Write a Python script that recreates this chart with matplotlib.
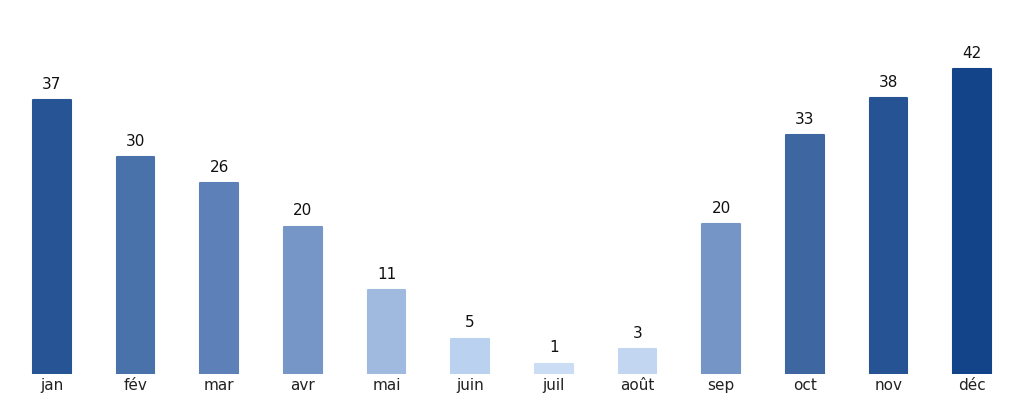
import matplotlib.pyplot as plt
import numpy as np
from matplotlib.colors import LinearSegmentedColormap, Normalize

# Données
mois = ['jan', 'fév', 'mar', 'avr', 'mai', 'juin', 'juil', 'août', 'sep', 'oct', 'nov', 'déc']
valeurs = [37.3, 29.6, 26.0, 20.1, 11.4, 4.8, 1.4, 3.4, 20.4, 32.6, 37.6, 41.6]

cmap = LinearSegmentedColormap.from_list('bleus', [
    (0.0, '#cbdcf5'), (0.09, '#b9d0f0'), (0.25, '#a0b9df'), (0.46, '#7697c7'),
    (0.61, '#5c80b7'), (0.70, '#4a72aa'), (0.78, '#3d65a1'), (0.89, '#285596'),
    (1.0, '#134388')])
norm = Normalize(vmin=min(valeurs), vmax=max(valeurs))
couleurs = [cmap(norm(v)) for v in valeurs]

fig = plt.figure(figsize=(10.24, 4.04), dpi=100)
ax = fig.add_axes([10 / 1024, 30 / 404, 1004 / 1024, 330 / 404])

x = np.arange(len(mois))
ax.bar(x, valeurs, width=0.45, color=couleurs, edgecolor=couleurs,
       linewidth=1.5, joinstyle='round')

for xi, v in zip(x, valeurs):
    ax.annotate(f'{v:.0f}', (xi, v), xytext=(0, 6), textcoords='offset points',
                ha='center', va='bottom', fontsize=11, color='#111111')

ax.set_xlim(-0.5, len(mois) - 0.5)
ax.set_ylim(0, 45)
ax.set_xticks(x)
ax.set_xticklabels(mois, fontsize=11, color='#222222')
ax.tick_params(axis='x', length=0, pad=3)
ax.set_yticks([])
for s in ax.spines.values():
    s.set_visible(False)

fig.savefig('out.png', dpi=100)
